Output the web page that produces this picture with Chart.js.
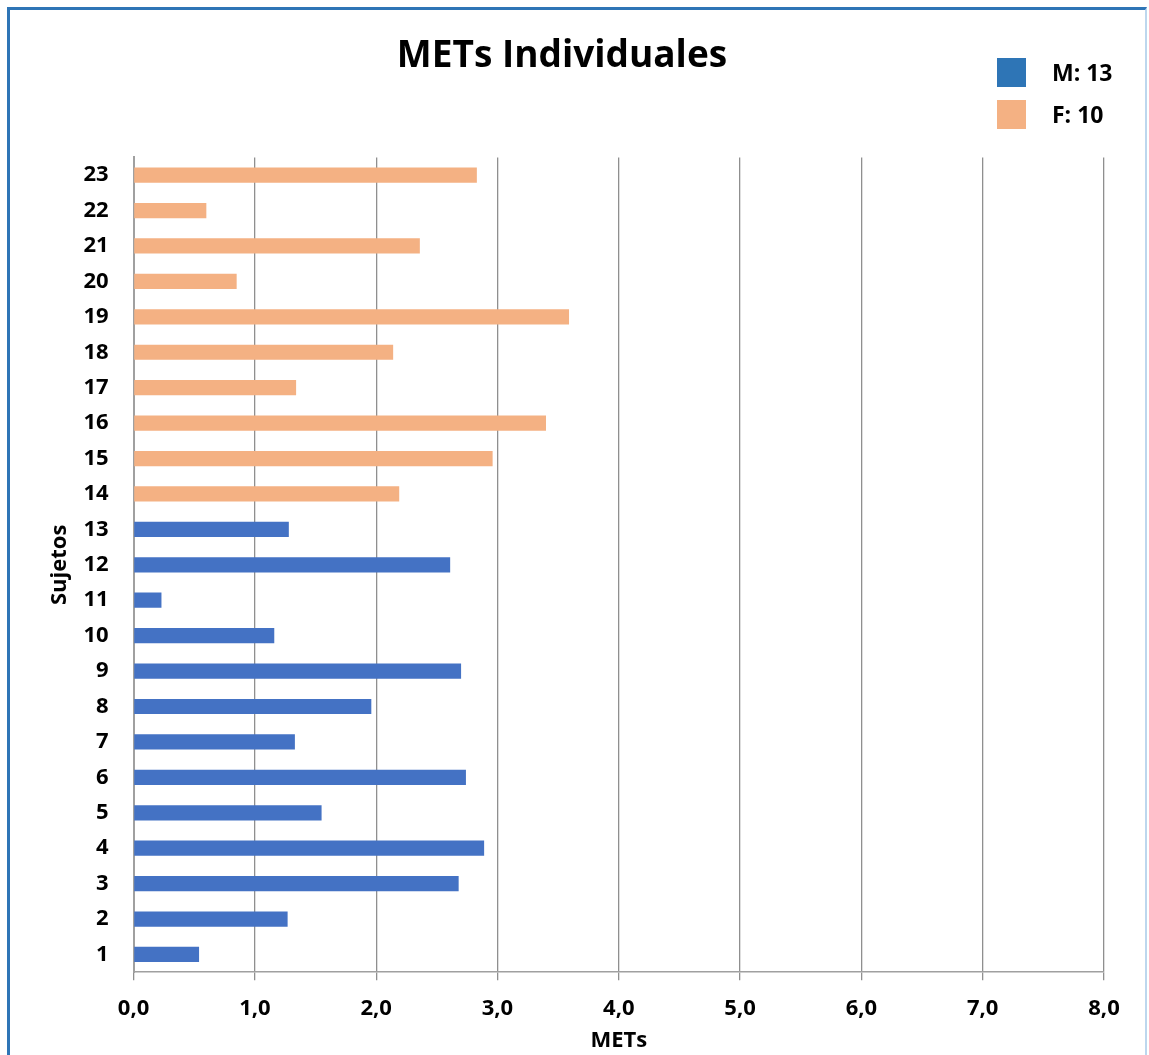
<!DOCTYPE html>
<html lang="es">
<head>
<meta charset="utf-8">
<title>METs Individuales</title>
<script src="https://cdn.jsdelivr.net/npm/chart.js@4/dist/chart.umd.min.js"></script>
<style>
  html, body { margin: 0; padding: 0; background: #fff; overflow: hidden; }
  #wrap { position: relative; width: 1149px; height: 1055px; }
  #chart { position: absolute; left: 0; top: 0; }
  #frame {
    position: absolute; left: 7px; top: 7px; width: 1135px; height: 1100px;
    border-left: 3px solid #2E75B6; border-top: 3px solid #2E75B6;
    border-right: 2px solid #BDD7EE; pointer-events: none;
  }
  #legend {
    position: absolute; left: 997px; top: 58px;
    font-family: "Open Sans", sans-serif; font-weight: 700; font-size: 23px; color: #000;
  }
  .item { display: flex; align-items: center; height: 29px; margin-bottom: 13px; }
  .item span { position: relative; top: -1px; }
  .swatch { width: 29px; height: 29px; margin-right: 26px; }
</style>
</head>
<body>
<div id="wrap">
  <canvas id="chart" width="1149" height="1055"></canvas>
  <div id="frame"></div>
  <div id="legend"></div>
</div>
<script>
// Subjects 1..23 (1 drawn at the bottom)
const subjects = ['1','2','3','4','5','6','7','8','9','10','11','12','13',
                  '14','15','16','17','18','19','20','21','22','23'];
// METs per subject, men (subjects 1–13)
const metsM = [0.54, 1.27, 2.68, 2.89, 1.55, 2.74, 1.33, 1.96, 2.70, 1.16, 0.23, 2.61, 1.28];
// METs per subject, women (subjects 14–23)
const metsF = [2.19, 2.96, 3.40, 1.34, 2.14, 3.59, 0.85, 2.36, 0.60, 2.83];
// Value axis range and step
const xMin = 0, xMax = 8, xStep = 1;

const colorM = '#4472C4';
const colorMLegend = '#2E75B6';
const colorF = '#F4B183';
const FONT = '"Open Sans", sans-serif';

const dataM = metsM.concat(new Array(metsF.length).fill(null));
const dataF = new Array(metsM.length).fill(null).concat(metsF);

const legendItems = [
  { text: 'M: ' + metsM.length, color: colorMLegend },
  { text: 'F: ' + metsF.length, color: colorF }
];
const legendEl = document.getElementById('legend');
legendItems.forEach(it => {
  const row = document.createElement('div');
  row.className = 'item';
  const sw = document.createElement('div');
  sw.className = 'swatch';
  sw.style.background = it.color;
  const tx = document.createElement('span');
  tx.textContent = it.text;
  row.appendChild(sw);
  row.appendChild(tx);
  legendEl.appendChild(row);
});

const tickFont = { family: FONT, size: 22, weight: '700', lineHeight: 1.2 };
const axisTitleFont = { family: FONT, size: 22, weight: '700', lineHeight: 1.2 };

new Chart(document.getElementById('chart'), {
  type: 'bar',
  data: {
    labels: subjects,
    datasets: [
      { label: legendItems[0].text, data: dataM, backgroundColor: colorM,
        barPercentage: 0.43, categoryPercentage: 1 },
      { label: legendItems[1].text, data: dataF, backgroundColor: colorF,
        barPercentage: 0.43, categoryPercentage: 1 }
    ]
  },
  options: {
    indexAxis: 'y',
    responsive: false,
    animation: false,
    layout: { padding: { left: 20, right: 45, top: 0, bottom: 0 } },
    plugins: {
      legend: { display: false },
      tooltip: { enabled: false },
      title: {
        display: true,
        text: 'METs Individuales',
        color: '#000',
        font: { family: FONT, size: 37, weight: '700', lineHeight: 1.2 },
        padding: { top: 34, bottom: 79 }
      }
    },
    scales: {
      x: {
        min: xMin, max: xMax,
        grid: { color: '#8f8f8f', lineWidth: 1.3, drawTicks: true, tickLength: 8 },
        border: { display: true, color: '#a0a0a0', width: 1.5 },
        ticks: {
          stepSize: xStep,
          color: '#000',
          padding: 15,
          font: tickFont,
          callback: v => v.toFixed(1).replace('.', ',')
        },
        title: {
          display: true, text: 'METs', color: '#000',
          font: axisTitleFont,
          padding: { top: -9, bottom: 1 }
        }
      },
      y: {
        reverse: true,
        stacked: true,
        grid: { display: false, drawTicks: false },
        border: { display: true, color: '#a0a0a0', width: 2 },
        ticks: {
          color: '#000',
          padding: 25,
          font: tickFont
        },
        title: {
          display: true, text: 'Sujetos', color: '#000',
          font: axisTitleFont,
          padding: { top: 27, bottom: -15 }
        }
      }
    }
  }
});
</script>
</body>
</html>
